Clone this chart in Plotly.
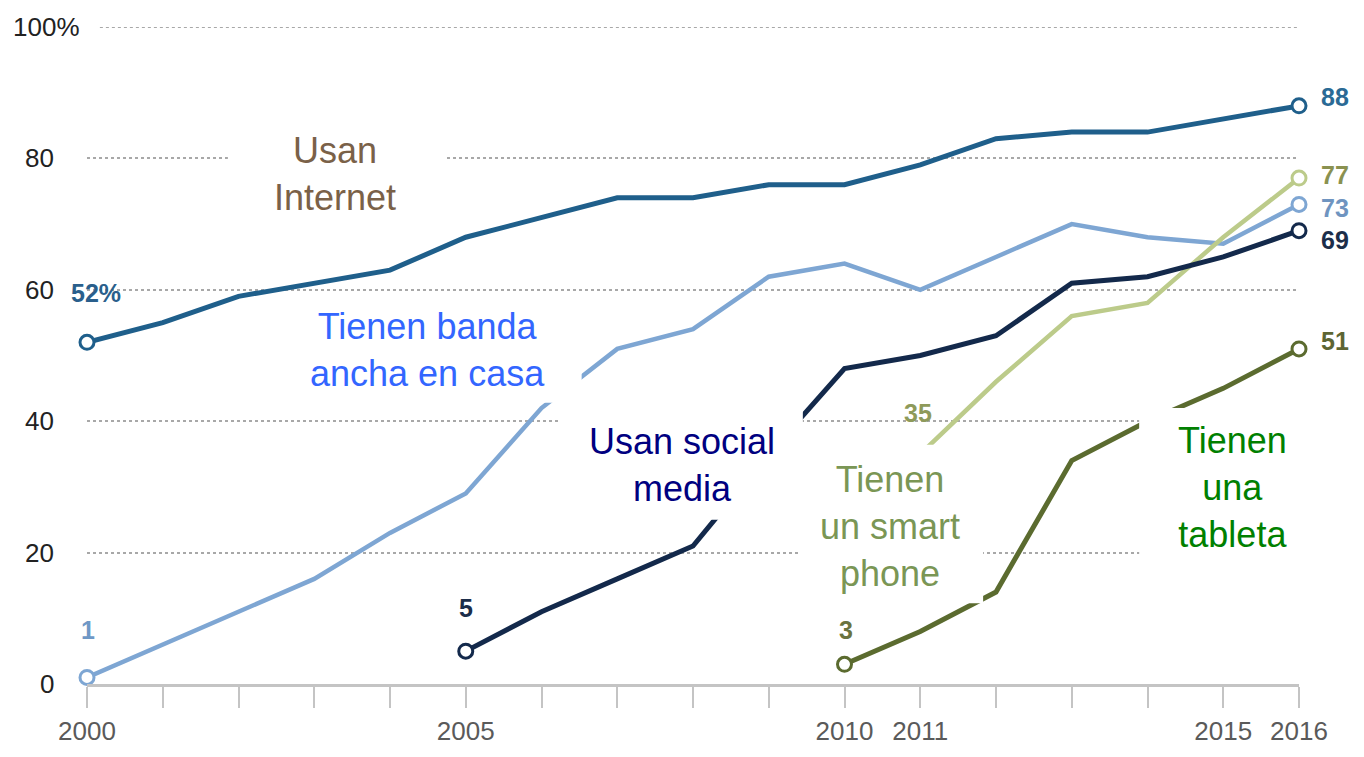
import plotly.graph_objects as go

years = list(range(2000, 2017))

internet_years = list(range(2000, 2017))
internet = [52, 55, 59, 61, 63, 68, 71, 74, 74, 76, 76, 79, 83, 84, 84, 86, 88]

broadband_years = list(range(2000, 2017))
broadband = [1, 6, 11, 16, 23, 29, 42, 51, 54, 62, 64, 60, 65, 70, 68, 67, 73]

social_years = list(range(2005, 2017))
social = [5, 11, 16, 21, 35, 48, 50, 53, 61, 62, 65, 69]

smartphone_years = list(range(2011, 2017))
smartphone = [35, 46, 56, 58, 68, 77]

tablet_years = list(range(2010, 2017))
tablet = [3, 8, 14, 34, 40, 45, 51]

xtick_labels = {2000: "2000", 2005: "2005", 2010: "2010", 2011: "2011", 2015: "2015", 2016: "2016"}
ytick_vals = [0, 20, 40, 60, 80, 100]
ytick_text = ["0", "20", "40", "60", "80", "100%"]

C_INTERNET = "#1f5f8b"
C_BROAD = "#7ea6d3"
C_SOCIAL = "#13294b"
C_SMART = "#bccb8a"
C_TABLET = "#5b6b2f"

NUMF = "Liberation Sans, Arial, sans-serif"
ARIAL = "Liberation Sans, Arial, sans-serif"

series = [
    (broadband_years, broadband, C_BROAD, 4.5),
    (internet_years, internet, C_INTERNET, 5),
    (tablet_years, tablet, C_TABLET, 5),
    (smartphone_years, smartphone, C_SMART, 4.5),
    (social_years, social, C_SOCIAL, 5),
]

fig = go.Figure()
for xs, ys, col, w in series:
    fig.add_trace(go.Scatter(
        x=xs, y=ys, mode="lines", line=dict(color=col, width=w),
        cliponaxis=False, showlegend=False, hoverinfo="skip"))
    fig.add_trace(go.Scatter(
        x=[xs[0], xs[-1]], y=[ys[0], ys[-1]], mode="markers",
        marker=dict(size=14, color="white", line=dict(color=col, width=3)),
        cliponaxis=False, showlegend=False, hoverinfo="skip"))

shapes = []
# top (100%) gridline, which plotly does not draw at the range edge
shapes.append(dict(type="line", xref="x", yref="y", x0=2000.17, x1=2016, y0=100, y1=100,
                   line=dict(color="#a8a8a8", width=2, dash="dot"), layer="below"))
boxes = [
    (2001.86, 2004.73, 68.8, 86.4),   # Usan Internet
    (2002.68, 2006.53, 42.8, 58.2),   # banda ancha
    (2006.24, 2009.45, 25.0, 42.0),   # social media
    (2009.39, 2011.83, 12.3, 36.4),   # smart phone
    (2013.89, 2016.15, 16.6, 42.0),   # tableta
]
for x0, x1, y0, y1 in boxes:
    shapes.append(dict(type="rect", xref="x", yref="y", x0=x0, x1=x1, y0=y0, y1=y1,
                       fillcolor="white", line=dict(width=0), layer="above"))

annotations = []
for v, t in zip(ytick_vals, ytick_text):
    if t.endswith("%"):
        annotations.append(dict(x=2000, y=v, xref="x", yref="y", text=t, showarrow=False,
                                xanchor="left", xshift=-76, font=dict(family=NUMF, size=26, color="#222")))
    else:
        annotations.append(dict(x=2000, y=v, xref="x", yref="y", text=t, showarrow=False,
                                xanchor="right", xshift=-31, font=dict(family=NUMF, size=26, color="#222")))

labels = [
    (2003.27, 77.6, "Usan<br>Internet", "#7a6148"),
    (2004.49, 50.9, "Tienen banda<br>ancha en casa", "#3366ff"),
    (2007.85, 33.3, "Usan social<br>media", "#000080"),
    (2010.6, 24.0, "Tienen<br>un smart<br>phone", "#7a9655"),
    (2015.12, 29.9, "Tienen<br>una<br>tableta", "#008000"),
]
for x, y, t, c in labels:
    annotations.append(dict(x=x, y=y, xref="x", yref="y", text=t, showarrow=False,
                            font=dict(family=ARIAL, size=36, color=c), align="center"))

starts = [
    (internet_years[0], internet[0], "52%", "#2a5f8c", 9, 49),
    (broadband_years[0], broadband[0], str(broadband[0]), "#6f98c6", 1, 47),
    (social_years[0], social[0], str(social[0]), "#1c2e4a", 0, 43),
    (tablet_years[0], tablet[0], str(tablet[0]), "#6a7340", 1, 34),
    (smartphone_years[0], smartphone[0], str(smartphone[0]), "#8e9a5a", -2, 41),
]
for x, y, t, c, dx, dy in starts:
    annotations.append(dict(x=x, y=y, xref="x", yref="y", text="<b>" + t + "</b>", showarrow=False,
                            xshift=dx, yshift=dy, font=dict(family=NUMF, size=25, color=c)))

ends = [
    (internet_years[-1], internet[-1], "#2a6a95", 9),
    (smartphone_years[-1], smartphone[-1], "#8a9150", 3),
    (broadband_years[-1], broadband[-1], "#6f94c0", -4),
    (social_years[-1], social[-1], "#1c2e4a", -9),
    (tablet_years[-1], tablet[-1], "#5d6533", 8),
]
for x, y, c, dy in ends:
    annotations.append(dict(x=x, y=y, xref="x", yref="y", text="<b>" + str(y) + "</b>", showarrow=False,
                            xanchor="left", xshift=20, yshift=dy,
                            font=dict(family=NUMF, size=25, color=c)))

fig.update_layout(
    width=1348, height=741,
    margin=dict(l=79, r=57, t=19, b=65),
    paper_bgcolor="white", plot_bgcolor="white",
    shapes=shapes, annotations=annotations,
    xaxis=dict(range=[2000, 2016], tickmode="array", tickvals=years,
               ticktext=[xtick_labels.get(y, "") for y in years],
               ticks="outside", ticklen=21, tickwidth=2, tickcolor="#c4c4c4",
               ticklabelstandoff=1,
               showline=True, linecolor="#c4c4c4", linewidth=3,
               showgrid=False, zeroline=False, automargin=False,
               tickfont=dict(family=NUMF, size=26, color="#5a5a5a"), fixedrange=True),
    yaxis=dict(range=[0, 100], tickmode="array", tickvals=[20, 40, 60, 80, 100],
               showticklabels=False, showgrid=True, gridcolor="#a8a8a8", gridwidth=2,
               griddash="dot", zeroline=False, showline=False, automargin=False,
               fixedrange=True),
)

fig.write_html("out.html")
